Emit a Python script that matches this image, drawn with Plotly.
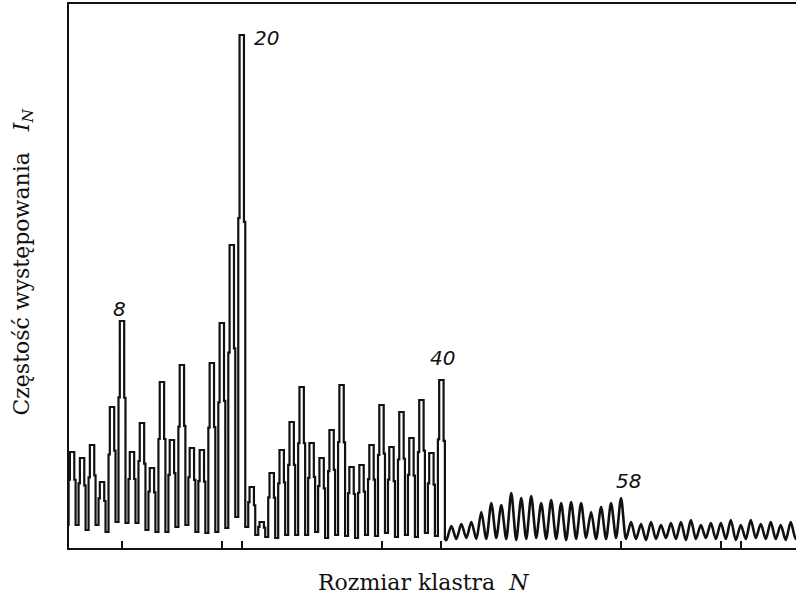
import plotly.graph_objects as go

# Cluster size N and peak intensity I_N (arbitrary units)
cluster_n = list(range(3, 77))
peak_height = [96, 90, 103, 66, 141, 227, 96, 125, 80, 166,
               108, 183, 100, 98, 185, 225, 303, 513, 61, 26,
               75, 98, 126, 161, 105, 90, 118, 163, 81, 83,
               103, 143, 101, 136, 110, 148, 95, 168, 22, 24,
               26, 36, 45, 43, 55, 50, 52, 45, 48, 45,
               46, 45, 36, 41, 45, 50, 26, 24, 26, 23,
               25, 26, 28, 23, 25, 25, 28, 23, 28, 24,
               26, 23, 26, 23]
# signal level in the dip that follows each peak
valley_height = [23, 18, 23, 16, 26, 25, 25, 18, 16, 16,
                 21, 23, 16, 15, 16, 20, 31, 21, 13, 11,
                 10, 13, 13, 13, 16, 10, 13, 12, 10, 13,
                 12, 15, 11, 13, 11, 15, 12, 8, 9, 10,
                 9, 9, 10, 9, 8, 9, 10, 9, 9, 8,
                 9, 10, 9, 9, 10, 9, 9, 8, 9, 10,
                 9, 8, 9, 10, 9, 9, 8, 9, 10, 9,
                 9, 8, 9, 9]
start_level = 23

magic_n = [8, 20, 40, 58]
magic_labels = ["8", "20", "40", "58"]
tick_n = [8, 18, 20, 34, 40, 58, 68, 70]

x_title = "Rozmiar klastra  <i>N</i>"
y_title = "Częstość występowania   <i>I<sub>N</sub></i>"

# --- drawing style ---
INK = "#111111"
outer, inner = 0.35, 0.22      # pulse half-widths (in N units)
shoulder = 0.62                # shoulder level as share of the pulse rise
split_n = 40                   # pulses up to here, smooth wiggles after

xs_a, ys_a = [2.6], [start_level]
xs_b, ys_b = [], []
prev = start_level
for n, h, v in zip(cluster_n, peak_height, valley_height):
    if n <= split_n:
        sl = prev + shoulder * (h - prev)
        sr = v + shoulder * (h - v)
        xs_a += [n - outer, n - outer, n - inner, n - inner,
                 n + inner, n + inner, n + outer, n + outer]
        ys_a += [prev, sl, sl, h, h, sr, sr, v]
        if n == split_n:
            xs_b += [n + outer, n + 0.5]
            ys_b += [v, v]
    else:
        xs_b += [n, n + 0.5]
        ys_b += [h, v]
    prev = v

fig = go.Figure()
fig.add_trace(go.Scatter(x=xs_a, y=ys_a, mode="lines",
                         line=dict(color=INK, width=2.2),
                         hoverinfo="skip", showlegend=False))
fig.add_trace(go.Scatter(x=xs_b, y=ys_b, mode="lines",
                         line=dict(color=INK, width=2.6, shape="spline", smoothing=0.8),
                         hoverinfo="skip", showlegend=False))

label_shift = {8: (-3, 12), 20: (25, -3), 40: (1, 22), 58: (7, 17)}
for n, lab in zip(magic_n, magic_labels):
    h = peak_height[cluster_n.index(n)]
    dx, dy = label_shift[n]
    fig.add_annotation(x=n, y=h, text="<i>" + lab + "</i>", showarrow=False,
                       xanchor="center", yanchor="middle", xshift=dx, yshift=dy,
                       font=dict(family="DejaVu Sans", size=20, color=INK))

fig.add_annotation(xref="paper", yref="paper", x=0.487, y=-0.064,
                   text=x_title, showarrow=False, xanchor="center", yanchor="middle",
                   font=dict(family="DejaVu Serif", size=22, color=INK))
fig.add_annotation(xref="paper", yref="paper", x=-0.063, y=0.525,
                   text=y_title, showarrow=False, textangle=-90,
                   xanchor="center", yanchor="middle",
                   font=dict(family="DejaVu Serif", size=22, color=INK))

fig.update_xaxes(range=[2.69, 75.53], showgrid=False, zeroline=False,
                 showline=True, linecolor=INK, linewidth=2, mirror=True,
                 tickmode="array", tickvals=tick_n, ticks="inside",
                 ticklen=7, tickwidth=1.5, tickcolor=INK,
                 showticklabels=False)
fig.update_yaxes(range=[0, 544], showgrid=False, zeroline=False,
                 showline=True, linecolor=INK, linewidth=2,
                 ticks="", showticklabels=False)

fig.update_layout(width=796, height=607,
                  margin=dict(l=69, r=0, t=4, b=59),
                  paper_bgcolor="white", plot_bgcolor="white")

fig.write_html("out.html")
